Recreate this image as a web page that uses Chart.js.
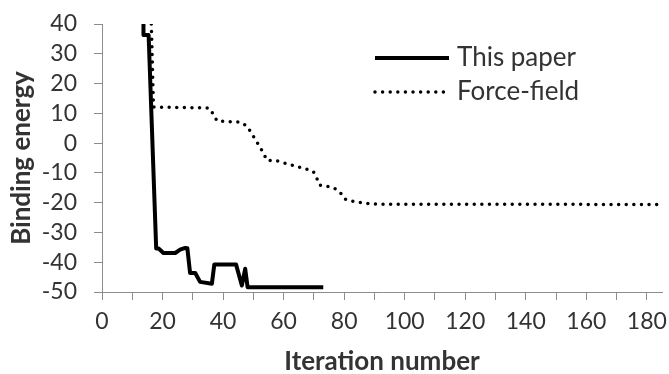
<!DOCTYPE html>
<html>
<head>
<meta charset="utf-8">
<script src="https://cdn.jsdelivr.net/npm/chart.js@4/dist/chart.umd.min.js"></script>
<style>
  html, body { margin: 0; padding: 0; background: #fff; }
  #wrap { width: 669px; height: 374px; position: relative; }
</style>
</head>
<body>
<div id="wrap"><canvas id="energyChart"></canvas></div>
<script>
// series: [iteration, binding energy]
const paperX = [13.7, 13.7, 15.4, 17.9, 18.7, 20.3, 24.2, 25.8, 27.5, 28.2, 29.1, 30.8, 32.4, 36.3, 37.1, 44.3, 46.2, 47.3, 48.1, 73.1];
const paperY = [40, 36.3, 36.3, -35.4, -35.4, -36.9, -36.9, -35.8, -35.2, -35.3, -43.6, -43.6, -46.6, -47.2, -40.8, -40.8, -47.8, -42.2, -48.4, -48.4];

const forceX = [16.3, 17.0, 35.3, 36.8, 38.0, 45.9, 47.9, 49.3, 52.0, 53.3, 54.5, 57.2, 62.1, 67.4, 69.8, 71.0, 71.8, 76.4, 78.6, 80.1, 82.5, 87.5, 90.8, 183.7];
const forceY = [40, 12.1, 11.8, 9.7, 7.4, 7.0, 5.7, 3.5, -1.0, -3.3, -5.8, -5.8, -7.2, -8.7, -9.5, -11.9, -14.1, -14.9, -16.4, -18.7, -19.5, -20.3, -20.5, -20.6];

const seriesNames = ['This paper', 'Force-field'];
const xTitle = 'Iteration number';
const yTitle = 'Binding energy';

const toPoints = (xs, ys) => xs.map((x, i) => ({ x: x, y: ys[i] }));

const textColor = '#333333';
const axisColor = '#8c8c8c';
const fontFamily = 'Lato, "Open Sans", sans-serif';

// legend drawn inside the plot, like the original
const insideLegend = {
    id: 'insideLegend',
    afterDatasetsDraw(chart) {
        const ctx = chart.ctx;
        const x0 = 375, x1 = 449, textX = 457;
        const rows = [58, 92];
        chart.data.datasets.forEach((ds, i) => {
            const y = rows[i];
            ctx.save();
            ctx.strokeStyle = ds.borderColor;
            ctx.lineWidth = ds.borderWidth;
            ctx.lineCap = ds.borderCapStyle || 'butt';
            ctx.setLineDash(ds.borderDash || []);
            ctx.beginPath();
            ctx.moveTo(x0, y);
            ctx.lineTo(x1, y);
            ctx.stroke();
            ctx.setLineDash([]);
            ctx.fillStyle = textColor;
            ctx.font = '26px ' + fontFamily;
            ctx.textBaseline = 'middle';
            ctx.fillText(ds.label, textX, y);
            ctx.restore();
        });
    }
};

const ctx = document.getElementById('energyChart').getContext('2d');
new Chart(ctx, {
    type: 'scatter',
    data: {
        datasets: [{
            label: seriesNames[0],
            data: toPoints(paperX, paperY),
            showLine: true,
            borderColor: '#000',
            borderWidth: 4,
            borderJoinStyle: 'round',
            pointRadius: 0,
            tension: 0
        }, {
            label: seriesNames[1],
            data: toPoints(forceX, forceY),
            showLine: true,
            borderColor: '#000',
            borderWidth: 3.5,
            borderDash: [0, 7.6],
            borderCapStyle: 'round',
            pointRadius: 0,
            tension: 0
        }]
    },
    options: {
        responsive: true,
        maintainAspectRatio: false,
        animation: false,
        devicePixelRatio: 1,
        layout: { padding: { left: 0, right: 7, top: 24, bottom: 0 } },
        plugins: {
            legend: { display: false },
            tooltip: { enabled: false }
        },
        scales: {
            x: {
                type: 'linear',
                min: 0,
                max: 185,
                afterBuildTicks: (scale) => {
                    scale.ticks = scale.ticks.filter(t => t.value % 10 === 0);
                },
                afterFit: (scale) => {
                    scale.height = 82;
                    scale.paddingRight = 0;
                    scale.paddingLeft = 0;
                },
                ticks: {
                    stepSize: 10,
                    includeBounds: false,
                    autoSkip: false,
                    maxRotation: 0,
                    padding: 8,
                    color: textColor,
                    font: { family: fontFamily, size: 23 },
                    callback: (v) => (v % 20 === 0 ? String(v) : '')
                },
                grid: { drawOnChartArea: false, drawTicks: true, tickLength: 8, color: axisColor },
                border: { color: axisColor },
                title: {
                    display: true,
                    text: xTitle,
                    color: textColor,
                    font: { family: fontFamily, size: 26, weight: 'bold' },
                    padding: { top: 0, bottom: -3 }
                }
            },
            y: {
                min: -50,
                max: 40,
                afterFit: (scale) => {
                    scale.width = 102;
                    scale.paddingTop = 0;
                    scale.paddingBottom = 0;
                },
                ticks: {
                    stepSize: 10,
                    autoSkip: false,
                    padding: 17,
                    color: textColor,
                    font: { family: fontFamily, size: 23 }
                },
                grid: { drawOnChartArea: false, drawTicks: true, tickLength: 8, color: axisColor },
                border: { color: axisColor },
                title: {
                    display: true,
                    text: yTitle,
                    color: textColor,
                    font: { family: fontFamily, size: 26, weight: 'bold' },
                    padding: { top: 6, bottom: 0 }
                }
            }
        }
    },
    plugins: [insideLegend]
});
</script>
</body>
</html>
